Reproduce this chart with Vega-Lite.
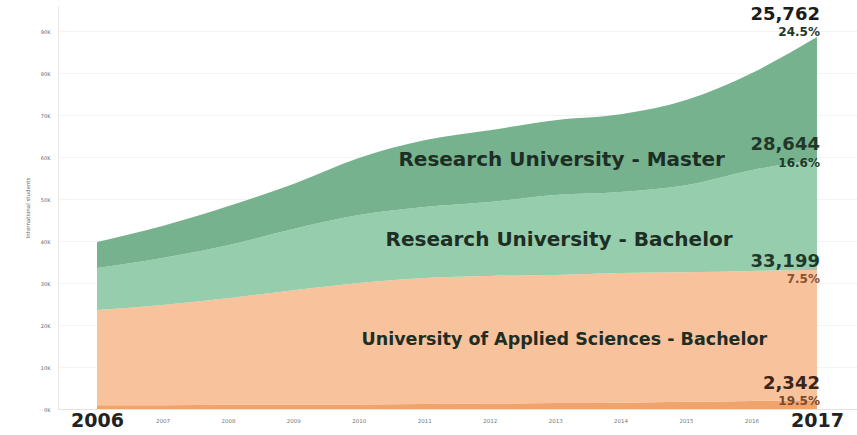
{
  "$schema": "https://vega.github.io/schema/vega-lite/v6.json",
  "autosize": "none",
  "width": 799,
  "height": 403,
  "padding": {"left": 58, "top": 6, "right": 0, "bottom": 26},
  "background": "white",
  "config": {"view": {"stroke": null}, "font": "DejaVu Sans"},
  "datasets": {
    "enrolment": [
      {"year": 2006, "type": "University of Applied Sciences - Master", "tier": 1, "students": 900},
      {"year": 2007, "type": "University of Applied Sciences - Master", "tier": 1, "students": 900},
      {"year": 2008, "type": "University of Applied Sciences - Master", "tier": 1, "students": 1000},
      {"year": 2009, "type": "University of Applied Sciences - Master", "tier": 1, "students": 1000},
      {"year": 2010, "type": "University of Applied Sciences - Master", "tier": 1, "students": 1100},
      {"year": 2011, "type": "University of Applied Sciences - Master", "tier": 1, "students": 1200},
      {"year": 2012, "type": "University of Applied Sciences - Master", "tier": 1, "students": 1300},
      {"year": 2013, "type": "University of Applied Sciences - Master", "tier": 1, "students": 1400},
      {"year": 2014, "type": "University of Applied Sciences - Master", "tier": 1, "students": 1500},
      {"year": 2015, "type": "University of Applied Sciences - Master", "tier": 1, "students": 1700},
      {"year": 2016, "type": "University of Applied Sciences - Master", "tier": 1, "students": 1900},
      {"year": 2017, "type": "University of Applied Sciences - Master", "tier": 1, "students": 2100},
      {"year": 2006, "type": "University of Applied Sciences - Bachelor", "tier": 2, "students": 22700},
      {"year": 2007, "type": "University of Applied Sciences - Bachelor", "tier": 2, "students": 23900},
      {"year": 2008, "type": "University of Applied Sciences - Bachelor", "tier": 2, "students": 25400},
      {"year": 2009, "type": "University of Applied Sciences - Bachelor", "tier": 2, "students": 27300},
      {"year": 2010, "type": "University of Applied Sciences - Bachelor", "tier": 2, "students": 28900},
      {"year": 2011, "type": "University of Applied Sciences - Bachelor", "tier": 2, "students": 30000},
      {"year": 2012, "type": "University of Applied Sciences - Bachelor", "tier": 2, "students": 30400},
      {"year": 2013, "type": "University of Applied Sciences - Bachelor", "tier": 2, "students": 30500},
      {"year": 2014, "type": "University of Applied Sciences - Bachelor", "tier": 2, "students": 30900},
      {"year": 2015, "type": "University of Applied Sciences - Bachelor", "tier": 2, "students": 30900},
      {"year": 2016, "type": "University of Applied Sciences - Bachelor", "tier": 2, "students": 31000},
      {"year": 2017, "type": "University of Applied Sciences - Bachelor", "tier": 2, "students": 31000},
      {"year": 2006, "type": "Research University - Bachelor", "tier": 3, "students": 10000},
      {"year": 2007, "type": "Research University - Bachelor", "tier": 3, "students": 11200},
      {"year": 2008, "type": "Research University - Bachelor", "tier": 3, "students": 12600},
      {"year": 2009, "type": "Research University - Bachelor", "tier": 3, "students": 14600},
      {"year": 2010, "type": "Research University - Bachelor", "tier": 3, "students": 16200},
      {"year": 2011, "type": "Research University - Bachelor", "tier": 3, "students": 16900},
      {"year": 2012, "type": "Research University - Bachelor", "tier": 3, "students": 17600},
      {"year": 2013, "type": "Research University - Bachelor", "tier": 3, "students": 19100},
      {"year": 2014, "type": "Research University - Bachelor", "tier": 3, "students": 19300},
      {"year": 2015, "type": "Research University - Bachelor", "tier": 3, "students": 20700},
      {"year": 2016, "type": "Research University - Bachelor", "tier": 3, "students": 24000},
      {"year": 2017, "type": "Research University - Bachelor", "tier": 3, "students": 26200},
      {"year": 2006, "type": "Research University - Master", "tier": 4, "students": 6200},
      {"year": 2007, "type": "Research University - Master", "tier": 4, "students": 7600},
      {"year": 2008, "type": "Research University - Master", "tier": 4, "students": 9300},
      {"year": 2009, "type": "Research University - Master", "tier": 4, "students": 10700},
      {"year": 2010, "type": "Research University - Master", "tier": 4, "students": 13600},
      {"year": 2011, "type": "Research University - Master", "tier": 4, "students": 15900},
      {"year": 2012, "type": "Research University - Master", "tier": 4, "students": 17100},
      {"year": 2013, "type": "Research University - Master", "tier": 4, "students": 17800},
      {"year": 2014, "type": "Research University - Master", "tier": 4, "students": 18500},
      {"year": 2015, "type": "Research University - Master", "tier": 4, "students": 20300},
      {"year": 2016, "type": "Research University - Master", "tier": 4, "students": 23100},
      {"year": 2017, "type": "Research University - Master", "tier": 4, "students": 29300}
    ],
    "names": [
      {"type": "Research University - Master", "year": 2013.1, "students": 59300},
      {"type": "Research University - Bachelor", "year": 2013.06, "students": 40200},
      {"type": "University of Applied Sciences - Bachelor", "year": 2013.14, "students": 16400}
    ],
    "figures": [
      {"type": "Research University - Master", "kind": "count", "text": "25,762", "year": 2017, "students": 93800},
      {"type": "Research University - Master", "kind": "growth", "text": "24.5%", "year": 2017, "students": 89900},
      {"type": "Research University - Bachelor", "kind": "count", "text": "28,644", "year": 2017, "students": 63000},
      {"type": "Research University - Bachelor", "kind": "growth", "text": "16.6%", "year": 2017, "students": 58500},
      {"type": "University of Applied Sciences - Bachelor", "kind": "count", "text": "33,199", "year": 2017, "students": 34900},
      {"type": "University of Applied Sciences - Bachelor", "kind": "growth", "text": "7.5%", "year": 2017, "students": 30900},
      {"type": "University of Applied Sciences - Master", "kind": "count", "text": "2,342", "year": 2017, "students": 5900},
      {"type": "University of Applied Sciences - Master", "kind": "growth", "text": "19.5%", "year": 2017, "students": 2000}
    ]
  },
  "layer": [
    {
      "data": {"name": "enrolment"},
      "mark": {"type": "area", "interpolate": "monotone"},
      "encoding": {
        "x": {
          "field": "year", "type": "quantitative",
          "scale": {"domain": [2005.404, 2017.612], "nice": false, "zero": false},
          "axis": {
            "values": [2006, 2007, 2008, 2009, 2010, 2011, 2012, 2013, 2014, 2015, 2016, 2017],
            "format": "d", "title": null, "ticks": false, "grid": false,
            "domain": true, "domainColor": "#e2e2e2",
            "labelFontSize": {"condition": {"test": "datum.value == 2006 || datum.value == 2017", "value": 19}, "value": 5.5},
            "labelFontWeight": {"condition": {"test": "datum.value == 2006 || datum.value == 2017", "value": "bold"}, "value": "normal"},
            "labelColor": {"condition": {"test": "datum.value == 2006 || datum.value == 2017", "value": "#222222"}, "value": "#777777"},
            "labelBaseline": "middle", "labelPadding": 11, "labelFlush": false, "labelOverlap": false
          }
        },
        "y": {
          "field": "students", "type": "quantitative", "stack": "zero",
          "scale": {"domain": [0, 96000], "nice": false},
          "axis": {
            "values": [0, 10000, 20000, 30000, 40000, 50000, 60000, 70000, 80000, 90000],
            "labelExpr": "datum.value / 1000 + 'K'",
            "labelFontSize": 5, "labelColor": "#666666", "ticks": false,
            "domain": true, "domainColor": "#e6e6e6",
            "grid": true, "gridColor": "#f3f3f3",
            "labelPadding": 8,
            "title": "International students", "titleFontSize": 5.5, "titleFontWeight": "normal",
            "titleColor": "#666666", "titlePadding": 10
          }
        },
        "order": {"field": "tier", "type": "quantitative", "sort": "ascending"},
        "color": {
          "field": "type", "type": "nominal",
          "scale": {
            "domain": ["Research University - Master", "Research University - Bachelor", "University of Applied Sciences - Bachelor", "University of Applied Sciences - Master"],
            "range": ["#76b28e", "#96cdac", "#f8c29c", "#f0a36b"]
          },
          "legend": null
        }
      }
    },
    {
      "data": {"name": "names"},
      "mark": {"type": "text", "fontWeight": "bold", "align": "center", "baseline": "middle", "color": "#1d2e25"},
      "encoding": {
        "x": {"field": "year", "type": "quantitative"},
        "y": {"field": "students", "type": "quantitative"},
        "text": {"field": "type"},
        "size": {"condition": {"test": "datum.type == 'University of Applied Sciences - Bachelor'", "value": 17.5}, "value": 20}
      }
    },
    {
      "data": {"name": "figures"},
      "mark": {"type": "text", "fontWeight": "bold", "align": "right", "baseline": "middle", "dx": 3},
      "encoding": {
        "x": {"field": "year", "type": "quantitative"},
        "y": {"field": "students", "type": "quantitative"},
        "text": {"field": "text"},
        "size": {"condition": {"test": "datum.kind == 'count'", "value": 18}, "value": 12},
        "color": {
          "condition": [
            {"test": "datum.type == 'Research University - Master' && datum.kind == 'count'", "value": "#1c1c1c"},
            {"test": "datum.type == 'University of Applied Sciences - Master' && datum.kind == 'count'", "value": "#3b2418"},
            {"test": "datum.type == 'University of Applied Sciences - Bachelor' && datum.kind == 'growth'", "value": "#8a5030"},
            {"test": "datum.type == 'University of Applied Sciences - Master' && datum.kind == 'growth'", "value": "#7a4828"}
          ],
          "value": "#1f3829"
        }
      }
    }
  ]
}
